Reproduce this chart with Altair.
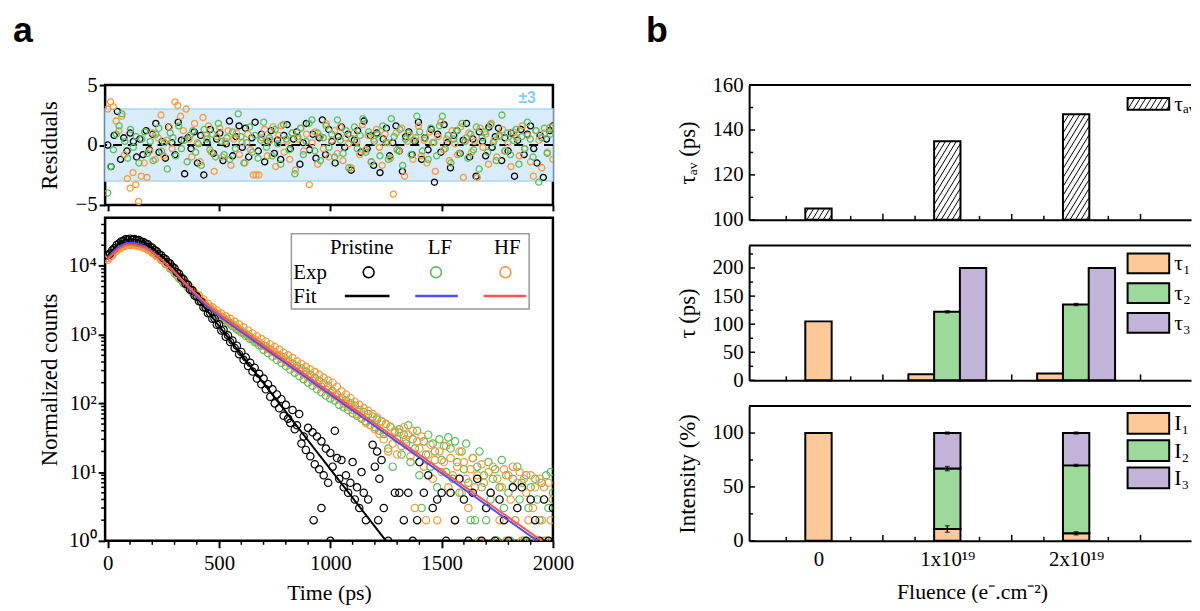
import json
import altair as alt
import pandas as pd

# ============================ panel a : data ============================
SERIES = ["Pristine", "LF", "HF"]
CHANNEL_PS = 10  # dense decay data: one value per 10-ps channel starting at 0 ps

pristine_counts = [14300, 15100, 16900, 18000, 20200, 21100, 22700, 23100, 24300, 24000,
                   24900, 24200, 24600, 23600, 23700, 22400, 22300, 21100, 20600, 19000,
                   18400, 17000, 16300, 14900, 14300, 13000, 12500, 11300, 10800, 9700,
                   9200, 8100, 7700, 6700, 6400, 5500, 5300, 4500, 4400, 3700,
                   3600, 3050, 3000, 2500, 2450, 2050, 2060, 1700, 1710, 1390,
                   1420, 1150, 1180, 930, 980, 780, 820, 640, 690, 520,
                   560, 430, 470, 350, 390, 290, 330, 230, 270, 190,
                   230, 160, 190, 125, 160, 100, 135, 85, 115, 66,
                   95, 60, 52, 80, 42, 48, 70, 26, 33, 21,
                   44, 17, 38, 13, 33, 11, 28, 9, 22, 7, 19]
lf_counts = [13000, 14500, 15300, 17000, 17800, 19400, 19800, 21100, 21200, 22100,
             21700, 22200, 21400, 21500, 20700, 20500, 19500, 19300, 18000, 17400,
             16000, 15500, 14100, 13700, 12300, 11900, 10700, 10300, 9200, 8850,
             7800, 7400, 6600, 6250, 5600, 5350, 4800, 4620, 4150, 3880,
             3480, 3370, 3030, 2930, 2630, 2550, 2320, 2270, 2050, 2010,
             1820, 1800, 1640, 1620, 1470, 1460, 1320, 1310, 1190, 1180,
             1070, 1060, 960, 960, 865, 860, 780, 775, 700, 700,
             600, 680, 540, 610, 480, 560, 430, 500, 390, 470,
             350, 420, 310, 380, 280, 350, 250, 320, 225, 290,
             200, 260, 180, 235, 160, 215, 145, 195, 130, 180, 118]
hf_counts = [12300, 13600, 14200, 15900, 16700, 18100, 18300, 19700, 19600, 20600,
             20100, 20800, 19900, 20200, 19300, 19400, 18300, 18500, 17200, 16900,
             15600, 15200, 13900, 13500, 12300, 12100, 10900, 10600, 9500, 9300,
             8400, 8000, 7000, 6900, 5900, 5800, 4950, 4900, 4150, 4100,
             3650, 3700, 3150, 3250, 2700, 2800, 2450, 2500, 2150, 2250,
             1950, 2020, 1750, 1850, 1580, 1700, 1420, 1540, 1280, 1400,
             1150, 1280, 1030, 1150, 930, 1040, 840, 950, 760, 860,
             690, 790, 620, 720, 560, 660, 500, 600, 450, 545,
             405, 500, 365, 455, 330, 410, 295, 375, 265, 340,
             240, 310, 215, 285, 195, 260, 175, 235, 158, 215, 142]

# sparse tail of the pristine decay: (time ps, counts)
pristine_tail = [(925, 2), (960, 3), (1000, 1), (1010, 12), (1020, 40), (1030, 16), (1040, 8),
                 (1050, 15), (1060, 6), (1070, 9), (1080, 5), (1090, 7), (1100, 14), (1110, 4),
                 (1120, 6), (1130, 3), (1140, 10), (1150, 5), (1160, 2), (1170, 4), (1190, 25),
                 (1200, 12), (1210, 20), (1215, 2), (1220, 8), (1230, 15), (1240, 3), (1260, 1),
                 (1290, 5), (1310, 5), (1330, 2), (1350, 5), (1370, 1), (1390, 2), (1400, 14),
                 (1420, 5), (1440, 9), (1460, 3), (1480, 4), (1500, 5), (1520, 1), (1540, 5),
                 (1560, 2), (1580, 8), (1600, 4), (1620, 1), (1640, 5), (1660, 8), (1680, 1),
                 (1700, 3), (1720, 5), (1740, 1), (1760, 4), (1780, 2), (1800, 1), (1820, 6),
                 (1840, 3), (1860, 6), (1880, 1), (1900, 4), (1920, 2), (1940, 1), (1960, 4),
                 (1980, 1), (2000, 3)]
# tails of LF / HF decays, 10-ps channels from 1010 ps to 2000 ps
lf_tail_counts = [150, 110, 135, 95, 120, 88, 110, 80, 100, 72,
                  92, 66, 80, 60, 75, 55, 70, 48, 64, 45,
                  58, 40, 55, 36, 50, 22, 45, 12, 38, 30,
                  42, 18, 35, 26, 48, 14, 30, 22, 40, 9,
                  3, 28, 18, 35, 12, 26, 20, 6, 30, 15,
                  24, 10, 32, 22, 8, 28, 14, 5, 20, 11,
                  26, 7, 2, 16, 2, 12, 20, 6, 9, 2,
                  14, 4, 8, 11, 1, 6, 15, 3, 9, 5,
                  1, 8, 2, 12, 4, 7, 1, 9, 3, 6,
                  1, 8, 4, 2, 7, 1, 9, 3, 10, 5]
hf_tail_counts = [200, 130, 175, 115, 150, 100, 135, 90, 120, 80,
                  105, 70, 95, 62, 85, 52, 78, 48, 70, 42,
                  62, 36, 55, 30, 50, 20, 46, 26, 40, 18,
                  38, 24, 45, 30, 35, 17, 40, 3, 28, 22,
                  33, 12, 2, 18, 25, 8, 15, 2, 20, 10,
                  14, 24, 6, 16, 9, 2, 12, 20, 5, 14,
                  8, 3, 11, 16, 6, 9, 1, 13, 7, 3,
                  10, 5, 12, 1, 8, 2, 6, 11, 1, 9,
                  4, 12, 2, 7, 10, 1, 8, 5, 2, 9,
                  3, 6, 1, 8, 2, 6, 1, 7, 2, 4]
TAIL_START_PS = 1010

# fitted curves (knots)
pristine_fit_t = [0, 20, 50, 80, 110, 140, 170, 200, 240, 270, 300, 1250]
pristine_fit_v = [14100, 16600, 21400, 24000, 24500, 23400, 21400, 18200, 14100, 11500, 9100, 1]
lf_fit_t = [0, 20, 50, 80, 110, 140, 170, 200, 250, 300, 350, 400, 450, 500, 1930]
lf_fit_v = [13200, 15500, 19100, 21400, 21900, 20900, 19100, 16200, 11700, 7940, 5250, 3550, 2510, 1860, 1]
hf_fit_t = [0, 20, 50, 80, 110, 140, 170, 200, 250, 300, 350, 400, 450, 500, 1950]
hf_fit_v = [12600, 14500, 17800, 20000, 20400, 19500, 18200, 15800, 11750, 8130, 5500, 3800, 2690, 2000, 1]

# weighted residuals, evenly spaced over 0-2000 ps
pristine_res = [0.0, -1.8, 0.8, 2.8, -1.2, 0.6, -0.5, 1.0, 0.3, -1.0, 0.5, -0.8, 1.2, -0.4, 0.9, 1.8,
                -0.6, 0.3, -1.1, 1.5, 0.2, -0.8, 1.9, 0.4, -2.4, 0.6, -0.3, 1.1, -1.5, 0.8, -2.5, 0.2,
                1.3, -0.7, 0.5, 1.0, -1.3, 0.1, 2.0, -0.9, 0.7, 1.6, -0.2, 1.4, -1.0, 0.6, 1.9, -0.5,
                0.9, -1.4, 0.3, 1.2, -0.7, 0.4, -1.2, 0.8, 1.7, -0.3, 0.5, 1.1, -1.6, 0.2, 1.8, -0.4,
                0.9, -1.1, 0.6, 2.1, -0.8, 1.3, 0.3, -1.5, 0.7, 1.5, -0.2, 0.9, -2.1, 0.4, 1.2, -0.6,
                2.0, -0.3, 0.8, -1.7, 1.0, -2.3, 0.5, 1.4, -0.9, 0.2, 1.6, -0.5, -2.2, 0.7, 1.1, -0.8,
                0.3, 1.9, -1.2, 0.6, -0.4, 1.3, -3.1, 0.9, -0.6, 1.7, 0.2, -1.9, 0.8, 1.2, -0.7, 0.4,
                1.8, -1.0, 0.5, -2.6, 1.1, 0.3, -0.9, 1.5, -0.2, 0.7, 1.4, -1.3, 0.6, -0.5, 1.0, -2.6,
                0.4, 1.3, -0.8, 0.9, 1.6, -0.3, -1.5, 0.8, -2.7, 0.5, 1.2, 1.6]
lf_res = [-4.0, -1.8, -0.4, 0.9, 1.6, 2.6, 0.3, -1.1, 1.3, -0.2, 0.7, -1.5, 0.5, 1.1, -0.7, 0.3,
          -1.3, 0.9, 1.4, -0.5, 0.2, -2.0, 1.0, 0.6, -0.9, 1.6, -0.3, 0.4, -1.4, 0.8, 1.2, -0.6,
          0.1, -1.7, 1.3, 0.5, -0.4, 0.9, -1.0, 1.8, 0.3, -0.8, 0.6, -1.2, 1.1, -0.3, 2.6, 0.7,
          -1.5, 0.2, 1.5, -0.6, 0.8, -1.1, 0.4, 1.9, -0.2, 0.6, -0.9, 1.3, 0.1, -1.6, 1.7, 0.5,
          -0.4, 1.0, -2.4, 0.7, 1.4, -0.8, 0.3, 1.8, 2.1, -0.5, 1.0, -1.3, 0.6, 1.6, -0.2, 0.9,
          -1.0, 2.1, 0.4, -0.7, 1.2, -1.9, 0.5, 1.5, -0.3, 0.8, 2.2, -0.6, 1.1, -1.4, 0.3, 0.9,
          -0.9, 1.6, 0.2, -1.2, 2.2, 0.7, -0.4, 1.3, -1.7, 0.5, 1.0, -0.8, 0.4, 2.4, 1.1, -0.5,
          0.6, -1.2, 1.4, 0.2, -0.9, 1.6, 2.4, -0.3, 0.8, -1.5, 0.5, 1.2, -0.7, 1.8, 0.3, -1.1,
          0.9, -0.4, 1.5, -2.0, 0.6, 1.1, -0.6, 1.7, 0.2, -1.3, 0.8, 2.5, -0.5, 1.0, -0.8, 0.4,
          1.3, -1.6, 0.7, -0.3, 1.9, 0.5, -1.0, 1.2, -3.1, 0.6, 1.4, -0.7, 0.9, 1.5]
hf_res = [3.0, 3.6, 3.2, 2.0, 1.2, 2.4, -0.8, -2.8, -3.6, -2.3, -3.3, -4.7, -2.6, -1.5, -2.7, -0.5,
          1.0, -1.2, 0.6, 2.5, -0.9, 0.4, 1.5, -0.3, 3.6, 3.3, 2.4, 1.2, 3.0, 0.5, -1.0, 1.8,
          0.2, -1.4, 2.3, 0.8, 1.6, -0.6, -2.2, 0.7, 1.4, -1.0, 0.3, 1.2, -1.7, 0.5, 1.0, -0.8,
          0.2, -1.5, 0.9, -0.4, -2.5, -2.5, -2.5, 0.6, 1.3, -0.9, 0.4, 1.5, -1.8, 0.8, 1.6, -0.6,
          0.3, -1.2, 1.0, -2.1, 0.5, 1.4, -0.5, 0.9, -3.3, 0.2, 1.1, -1.6, 0.7, -0.3, 1.8, -1.0,
          0.4, 1.2, -0.7, 1.5, -1.3, 0.6, 0.1, -1.9, 1.0, 0.3, -0.8, 1.7, -0.4, 0.8, -1.4, 0.5,
          1.3, -0.2, -1.7, 0.9, 0.2, -1.1, -4.1, 1.0, -0.5, 1.4, -2.6, 0.3, 0.8, -1.2, 0.6, 1.6,
          -0.9, 0.4, -1.5, 1.1, 0.2, -2.2, 0.7, 1.9, -0.4, 0.5, -1.3, 1.2, 0.1, -0.8, 1.5, -2.7,
          0.6, 1.0, -0.6, 0.3, -2.7, 1.4, -0.2, 0.9, -1.6, 1.8, 0.4, -1.0, 0.7, 1.3, -0.5, 0.2,
          -1.8, 1.1, 0.6, -0.9, 1.6, -0.3, 0.8, -1.4, -2.6, 1.2, 0.4, -1.9, 1.0, -0.6, 1.5, -1.2]
RES_SPAN_PS = 2000

# ============================ panel b : data ============================
fluence_pos = [0, 1, 2]
fluence_labels = ["0", "1x10¹⁹", "2x10¹⁹"]
tau_av = [105, 135, 147]
tau_1 = [105, 11, 12]
tau_2 = [None, 122, 135]
tau_3 = [None, 200, 200]
tau_2_err = [None, 2, 2]
int_1 = [100, 11, 7]
int_2 = [None, 56, 63]
int_3 = [None, 33, 30]
int_1_err = [None, 3, 1.5]
int_12_err = [None, 2, 1]
int_tot_err = [None, 1, 1]
tau_names = ["τ₁", "τ₂", "τ₃"]
int_names = ["I₁", "I₂", "I₃"]
tau_av_name = "τₐᵥ"

# ============================ style / layout ============================
SERIF = "Liberation Serif"
SANS = "Liberation Sans"
W_A, H_RES, H_DEC = 452, 121, 326
X0_A = -12
W_B, H_B = 446, 136
PX_PER_UNIT_B = 133.0
XMAX_B = -0.5 + W_B / PX_PER_UNIT_B
BAR_UNITS = 0.2
BAR_PX = BAR_UNITS * PX_PER_UNIT_B
COMP_OFFSET = [-0.2, 0.0, 0.2]
COL_GAP = 71
LABEL_Y = -43

PT_COLORS = ["#000000", "#5DBE5A", "#F89A3A"]
FIT_COLORS = {"Pristine": "#000000", "LF": "#5050EE", "HF": "#FF5555"}
BAND_FILL, BAND_STROKE, BAND_TEXT = "#D8ECFB", "#A9D7F7", "#8CCBF4"
COMP_FILL = ["#FDC998", "#9ED99C", "#C2B3D8"]

pt_color = alt.Color("series:N", scale=alt.Scale(domain=SERIES, range=PT_COLORS), legend=None)


def one(**kw):
    return pd.DataFrame({k: [v] for k, v in kw.items()})


# ---------------------------------------------------------------- frames
dec_rows = []
for name, dense, tail in [("LF", lf_counts, list(zip(range(TAIL_START_PS, 2001, CHANNEL_PS), lf_tail_counts))),
                          ("HF", hf_counts, list(zip(range(TAIL_START_PS, 2001, CHANNEL_PS), hf_tail_counts))),
                          ("Pristine", pristine_counts, pristine_tail)]:
    for i, v in enumerate(dense):
        dec_rows.append({"t": CHANNEL_PS * i, "v": v, "series": name})
    for t, v in tail:
        dec_rows.append({"t": t, "v": v, "series": name})
dec_df = pd.DataFrame(dec_rows)

fit_frames = {
    "Pristine": pd.DataFrame({"t": pristine_fit_t, "v": pristine_fit_v}),
    "LF": pd.DataFrame({"t": lf_fit_t, "v": lf_fit_v}),
    "HF": pd.DataFrame({"t": hf_fit_t, "v": hf_fit_v}),
}

res_rows = []
for name, vals in [("Pristine", pristine_res), ("HF", hf_res), ("LF", lf_res)]:
    n = len(vals)
    for i, r in enumerate(vals):
        res_rows.append({"t": RES_SPAN_PS * i / (n - 1), "r": r, "series": name})
res_df = pd.DataFrame(res_rows)

# ---------------------------------------------------------------- residual panel
res_x = alt.X("t:Q", scale=alt.Scale(domain=[X0_A, 2000], nice=False, zero=False),
              axis=alt.Axis(values=[0, 500, 1000, 1500, 2000], labels=False, title=None,
                            domain=False, grid=False, tickSize=6, tickWidth=2))
res_scale_y = alt.Scale(domain=[-5, 5], nice=False, zero=False)
res_axis_y = alt.Axis(values=[-5, 0, 5], title="Residuals", domain=False, grid=False, tickSize=6,
                      tickWidth=2, labelPadding=2, titleX=-56, titleY=H_RES / 2, titleAngle=270,
                      titleAlign="center", titleBaseline="middle", titleFontSize=23)


def ry(f):
    return alt.Y(f"{f}:Q", scale=res_scale_y, axis=res_axis_y)


band = alt.Chart(one(lo=-3, hi=3)).mark_rect(fill=BAND_FILL, stroke=BAND_STROKE, strokeWidth=1.5).encode(
    x=alt.value(0), x2=alt.value(W_A), y=ry("hi"), y2="lo:Q")
zero_line = alt.Chart(one(z=0)).mark_rule(color="black", strokeWidth=2, strokeDash=[9, 6]).encode(y=ry("z"))
res_pts = alt.Chart(res_df).mark_point(shape="circle", filled=False, size=38, strokeWidth=1.3,
                                       opacity=1, clip=True).encode(x=res_x, y=ry("r"), color=pt_color)
pm_text = alt.Chart(one(s="±3")).mark_text(font=SANS, fontSize=16, fontWeight="bold", color=BAND_TEXT).encode(
    x=alt.value(426), y=alt.value(13), text="s:N")
lab_a = alt.Chart(one(s="a")).mark_text(font=SANS, fontSize=36, fontWeight="bold", align="left",
                                        baseline="alphabetic", color="black").encode(
    x=alt.value(-93), y=alt.value(LABEL_Y), text="s:N")
res_chart = alt.layer(band, zero_line, res_pts, pm_text, lab_a).properties(
    width=W_A, height=H_RES, view=alt.ViewBackground(stroke="black", strokeWidth=2.5))

# ---------------------------------------------------------------- decay panel
dec_scale_x = alt.Scale(domain=[X0_A, 2000], nice=False, zero=False)
dec_axis_x = alt.Axis(values=[0, 500, 1000, 1500, 2000], format="d", labelFlush=False, domain=False,
                      grid=False, tickSize=7, tickWidth=2, labelPadding=5, title="Time (ps)",
                      titleX=W_A / 2, titleY=59, titleAlign="center", titleBaseline="alphabetic",
                      titleFontSize=22)
dec_scale_y = alt.Scale(type="log", domain=[1, 50000], nice=False)
decades = [1, 10, 100, 1000, 10000]
sup = ["⁰", "¹", "²", "³", "⁴"]
log_label = " : ".join(f"datum.value === {d} ? '10{s}'" for d, s in zip(decades, sup)) + " : ''"
dec_axis_y = alt.Axis(values=decades, labelExpr=log_label, domain=False, grid=False, tickSize=7,
                      tickWidth=2, labelPadding=2, labelOverlap=False, title="Normalized counts",
                      titleX=-56, titleY=H_DEC / 2, titleAngle=270, titleAlign="center",
                      titleBaseline="middle", titleFontSize=23)


def dx(f):
    return alt.X(f"{f}:Q", scale=dec_scale_x, axis=dec_axis_x)


def dy(f):
    return alt.Y(f"{f}:Q", scale=dec_scale_y, axis=dec_axis_y)


x_minor = [t for t in range(100, 2000, 100) if t % 500]
y_minor = [m * d for d in decades for m in range(2, 10) if m * d < 50000]
xminor_l = alt.Chart(pd.DataFrame({"t": x_minor})).mark_rule(color="black", strokeWidth=1.5).encode(
    x=dx("t"), y=alt.value(H_DEC), y2=alt.value(H_DEC + 4))
yminor_l = alt.Chart(pd.DataFrame({"v": y_minor})).mark_rule(color="black", strokeWidth=1.5).encode(
    y=dy("v"), x=alt.value(-4), x2=alt.value(0))
dec_pts = alt.Chart(dec_df).mark_point(shape="circle", filled=False, size=55, strokeWidth=1.2,
                                       opacity=1, clip=True).encode(x=dx("t"), y=dy("v"), color=pt_color)
fit_layers = [alt.Chart(fit_frames[s]).mark_line(color=FIT_COLORS[s], strokeWidth=2, clip=True).encode(
    x=dx("t"), y=dy("v"), order="t:Q") for s in SERIES]

# legend (pixel layout)
LEG_COL_X = [259, 338, 406]
LEG_PT_X = [266, 334, 404]
LEG_LINE_X0 = [242, 313, 382]
LEG_LINE_X1 = [287, 356, 425]
leg_box = alt.Chart(one(k=0)).mark_rect(fill="white", stroke="#9A9A9A", strokeWidth=1.5).encode(
    x=alt.value(188), x2=alt.value(428), y=alt.value(16), y2=alt.value(92))
leg_txt_df = pd.DataFrame({"s": SERIES + ["Exp", "Fit"],
                           "px": LEG_COL_X + [190, 190],
                           "py": [30, 30, 30, 56, 80]})
leg_head = alt.Chart(leg_txt_df.iloc[:3]).mark_text(font=SERIF, fontSize=21, baseline="middle", align="center",
                                                   color="black").encode(
    x=alt.X("px:Q", scale=None, axis=None), y=alt.Y("py:Q", scale=None, axis=None), text="s:N")
leg_rowlab = alt.Chart(leg_txt_df.iloc[3:]).mark_text(font=SERIF, fontSize=21, baseline="middle", align="left",
                                                     color="black").encode(
    x=alt.X("px:Q", scale=None, axis=None), y=alt.Y("py:Q", scale=None, axis=None), text="s:N")
leg_pts = alt.Chart(pd.DataFrame({"series": SERIES, "px": LEG_PT_X, "py": [55] * 3})).mark_point(
    shape="circle", filled=False, size=120, strokeWidth=1.6, opacity=1).encode(
    x=alt.X("px:Q", scale=None, axis=None), y=alt.Y("py:Q", scale=None, axis=None), color=pt_color)
leg_lines = alt.Chart(pd.DataFrame({"px": LEG_LINE_X0, "px2": LEG_LINE_X1, "py": [79] * 3,
                                    "c": [FIT_COLORS[s] for s in SERIES]})).mark_rule(strokeWidth=2.5).encode(
    x=alt.X("px:Q", scale=None, axis=None), x2="px2:Q", y=alt.Y("py:Q", scale=None, axis=None),
    color=alt.Color("c:N", scale=None))

dec_chart = alt.layer(xminor_l, yminor_l, dec_pts, *fit_layers, leg_box, leg_head, leg_rowlab, leg_pts,
                      leg_lines).properties(
    width=W_A, height=H_DEC, view=alt.ViewBackground(stroke="black", strokeWidth=2.5))

# ---------------------------------------------------------------- panel b helpers
XB_SCALE = alt.Scale(domain=[-0.5, XMAX_B], nice=False, zero=False)
label_expr_b = json.dumps(fluence_labels, ensure_ascii=False) + "[datum.value]"


def make_bx(bottom):
    if bottom:
        ax = alt.Axis(values=fluence_pos, labelExpr=label_expr_b, ticks=False, grid=False, domainWidth=2,
                      labelPadding=8, labelFlush=False, title="Fluence (e⁻.cm⁻²)", titleX=225, titleY=58,
                      titleAlign="center", titleBaseline="alphabetic", titleFontSize=22)
    else:
        ax = alt.Axis(values=fluence_pos, labels=False, ticks=False, grid=False, domainWidth=2, title=None)
    return lambda f: alt.X(f"{f}:Q", scale=XB_SCALE, axis=ax)


def make_by(dom, vals, title):
    sc = alt.Scale(domain=dom, nice=False, zero=False)
    ax = alt.Axis(values=vals, ticks=False, grid=False, domainWidth=2, labelPadding=6, title=title,
                  titleX=-62, titleY=H_B / 2, titleAngle=270, titleAlign="center", titleBaseline="middle",
                  titleFontSize=23)
    return lambda f: alt.Y(f"{f}:Q", scale=sc, axis=ax)


XT_MAJOR = [-0.5 + 0.5 * k for k in range(1, 7)]
XT_MINOR = [-0.25 + 0.5 * k for k in range(0, 6)]


def frame_layers(bx, by, ymaj, ymin):
    out = [
        alt.Chart(pd.DataFrame({"tv": ymaj})).mark_rule(color="black", strokeWidth=1.5).encode(
            y=by("tv"), x=alt.value(0), x2=alt.value(6)),
        alt.Chart(pd.DataFrame({"tv": ymin})).mark_rule(color="black", strokeWidth=1.5).encode(
            y=by("tv"), x=alt.value(0), x2=alt.value(4)),
        alt.Chart(pd.DataFrame({"tp": [p for p in XT_MAJOR if p < XMAX_B]})).mark_rule(
            color="black", strokeWidth=1.5).encode(x=bx("tp"), y=alt.value(H_B), y2=alt.value(H_B - 6)),
        alt.Chart(pd.DataFrame({"tp": [p for p in XT_MINOR if p < XMAX_B]})).mark_rule(
            color="black", strokeWidth=1.5).encode(x=bx("tp"), y=alt.value(H_B), y2=alt.value(H_B - 4)),
        alt.Chart(one(k=0)).mark_rule(color="black", strokeWidth=2).encode(y=alt.value(0)),
    ]
    return out


def hatch_px(w, h, slope=1.6, gap=9.0):
    segs = []
    c = -slope * w + gap / 2
    while c < h:
        xs = max(0.0, -c / slope)
        xe = min(w, (h - c) / slope)
        if xe > xs + 0.3:
            segs.append((xs, slope * xs + c, xe, slope * xe + c))
        c += gap
    return segs


def legend_layers(names, fills, top_y, box_h, step, hatched=False):
    lx0, lx1 = 382, 424
    rows = []
    for k, nm in enumerate(names):
        rows.append({"x0": lx0, "x1": lx1, "y0": top_y + k * step, "y1": top_y + k * step + box_h,
                     "ty": top_y + k * step + box_h / 2, "tx": lx1 + 5, "s": nm, "c": fills[k]})
    df = pd.DataFrame(rows)
    out = [alt.Chart(df).mark_rect(stroke="black", strokeWidth=2).encode(
        x=alt.X("x0:Q", scale=None, axis=None), x2="x1:Q", y=alt.Y("y0:Q", scale=None, axis=None), y2="y1:Q",
        fill=alt.Fill("c:N", scale=None))]
    if hatched:
        hrows = []
        for r in rows:
            for xs, ys, xe, ye in hatch_px(lx1 - lx0, box_h):
                hrows.append({"a": lx0 + xs, "b": r["y1"] - ys, "a2": lx0 + xe, "b2": r["y1"] - ye})
        out.append(alt.Chart(pd.DataFrame(hrows)).mark_rule(color="black", strokeWidth=1).encode(
            x=alt.X("a:Q", scale=None, axis=None), y=alt.Y("b:Q", scale=None, axis=None), x2="a2:Q", y2="b2:Q"))
    out.append(alt.Chart(df).mark_text(font=SERIF, fontSize=22, align="left", baseline="middle", color="black",
                                       clip=True).encode(
        x=alt.X("tx:Q", scale=None, axis=None), y=alt.Y("ty:Q", scale=None, axis=None), text="s:N"))
    return out


# ---------------------------------------------------------------- b top : tau_av
bx_top = make_bx(False)
by_top = make_by([100, 160], [100, 120, 140, 160], "τₐᵥ (ps)")
av_df = pd.DataFrame({"pos": fluence_pos, "val": tau_av, "base": [100] * 3})
PX_PER_PS_TOP = H_B / 60.0
hatch_rows = []
for p, v in zip(fluence_pos, tau_av):
    left = p - BAR_UNITS / 2
    for xs, ys, xe, ye in hatch_px(BAR_PX, (v - 100) * PX_PER_PS_TOP):
        hatch_rows.append({"hx0": left + xs / PX_PER_UNIT_B, "hy0": 100 + ys / PX_PER_PS_TOP,
                           "hx1": left + xe / PX_PER_UNIT_B, "hy1": 100 + ye / PX_PER_PS_TOP})
av_bars = alt.Chart(av_df).mark_bar(size=BAR_PX, fill="white", stroke="black", strokeWidth=2).encode(
    x=bx_top("pos"), y=by_top("val"), y2="base:Q")
av_hatch = alt.Chart(pd.DataFrame(hatch_rows)).mark_rule(color="black", strokeWidth=1).encode(
    x=bx_top("hx0"), y=by_top("hy0"), x2="hx1:Q", y2="hy1:Q")
lab_b = alt.Chart(one(s="b")).mark_text(font=SANS, fontSize=36, fontWeight="bold", align="left",
                                        baseline="alphabetic", color="black").encode(
    x=alt.value(-104), y=alt.value(LABEL_Y), text="s:N")
top_b = alt.layer(*frame_layers(bx_top, by_top, [100, 120, 140, 160], [110, 130, 150]),
                  av_bars, av_hatch, *legend_layers([tau_av_name], ["white"], 13, 12, 0, hatched=True),
                  lab_b).properties(width=W_B, height=H_B)

# ---------------------------------------------------------------- b middle : tau_i
bx_mid = make_bx(False)
by_mid = make_by([0, 240], [0, 50, 100, 150, 200], "τ (ps)")
comp_lists = [tau_1, tau_2, tau_3]
tau_layers = []
for k, arr in enumerate(comp_lists):
    rows = []
    for i, p in enumerate(fluence_pos):
        if arr[i] is None:
            continue
        ncomp = sum(c[i] is not None for c in comp_lists)
        rows.append({"pos": p + (COMP_OFFSET[k] if ncomp > 1 else 0.0), "val": arr[i], "base": 0})
    tau_layers.append(alt.Chart(pd.DataFrame(rows)).mark_bar(size=BAR_PX, fill=COMP_FILL[k], stroke="black",
                                                             strokeWidth=2).encode(
        x=bx_mid("pos"), y=by_mid("val"), y2="base:Q"))
err_rows = [{"pos": p + COMP_OFFSET[1], "lo": tau_2[i] - tau_2_err[i], "hi": tau_2[i] + tau_2_err[i]}
            for i, p in enumerate(fluence_pos) if tau_2_err[i] is not None]
err_df = pd.DataFrame(err_rows)
tau_err = [alt.Chart(err_df).mark_rule(color="black", strokeWidth=1.2).encode(x=bx_mid("pos"), y=by_mid("lo"), y2="hi:Q"),
           alt.Chart(err_df).mark_tick(orient="horizontal", size=5, thickness=1.2, color="black").encode(
               x=bx_mid("pos"), y=by_mid("hi")),
           alt.Chart(err_df).mark_tick(orient="horizontal", size=5, thickness=1.2, color="black").encode(
               x=bx_mid("pos"), y=by_mid("lo"))]
mid_b = alt.layer(*frame_layers(bx_mid, by_mid, [0, 50, 100, 150, 200], [25, 75, 125, 175, 225]),
                  *tau_layers, *tau_err, *legend_layers(tau_names, COMP_FILL, 8, 20, 30)).properties(
    width=W_B, height=H_B)

# ---------------------------------------------------------------- b bottom : intensities
bx_bot = make_bx(True)
by_bot = make_by([0, 125], [0, 50, 100], "Intensity (%)")
int_lists = [int_1, int_2, int_3]
int_layers = []
for k, arr in enumerate(int_lists):
    rows = []
    for i, p in enumerate(fluence_pos):
        if arr[i] is None:
            continue
        lo = sum(int_lists[j][i] or 0 for j in range(k))
        rows.append({"pos": p, "lo": lo, "hi": lo + arr[i]})
    int_layers.append(alt.Chart(pd.DataFrame(rows)).mark_bar(size=BAR_PX, fill=COMP_FILL[k], stroke="black",
                                                             strokeWidth=2).encode(
        x=bx_bot("pos"), y=by_bot("hi"), y2="lo:Q"))
ierr_rows = []
for i, p in enumerate(fluence_pos):
    for err, top in [(int_1_err[i], int_1[i]),
                     (int_12_err[i], int_1[i] + (int_2[i] or 0)),
                     (int_tot_err[i], int_1[i] + (int_2[i] or 0) + (int_3[i] or 0))]:
        if err is not None:
            ierr_rows.append({"pos": p, "lo": top - err, "hi": top + err})
ierr_df = pd.DataFrame(ierr_rows)
int_err = [alt.Chart(ierr_df).mark_rule(color="black", strokeWidth=1.2).encode(x=bx_bot("pos"), y=by_bot("lo"), y2="hi:Q"),
           alt.Chart(ierr_df).mark_tick(orient="horizontal", size=5, thickness=1.2, color="black").encode(
               x=bx_bot("pos"), y=by_bot("hi")),
           alt.Chart(ierr_df).mark_tick(orient="horizontal", size=5, thickness=1.2, color="black").encode(
               x=bx_bot("pos"), y=by_bot("lo"))]
bot_b = alt.layer(*frame_layers(bx_bot, by_bot, [0, 50, 100], [25, 75]),
                  *int_layers, *int_err, *legend_layers(int_names, COMP_FILL, 7, 21, 27.5)).properties(
    width=W_B, height=H_B)

# ---------------------------------------------------------------- assemble
col_a = alt.vconcat(res_chart, dec_chart, spacing=13, bounds="flush")
col_b = alt.vconcat(top_b, mid_b, bot_b, spacing=26, bounds="flush")
chart = alt.hconcat(col_a, col_b, spacing=COL_GAP).properties(
    padding={"left": 3, "top": 1, "right": 0, "bottom": 0}
).configure_view(stroke=None).configure_axis(
    labelFont=SERIF, titleFont=SERIF, labelFontSize=21, labelColor="black", titleColor="black",
    titleFontWeight="normal", tickColor="black", domainColor="black"
)

chart.save("out.html", embed_options={"renderer": "svg", "actions": False})
